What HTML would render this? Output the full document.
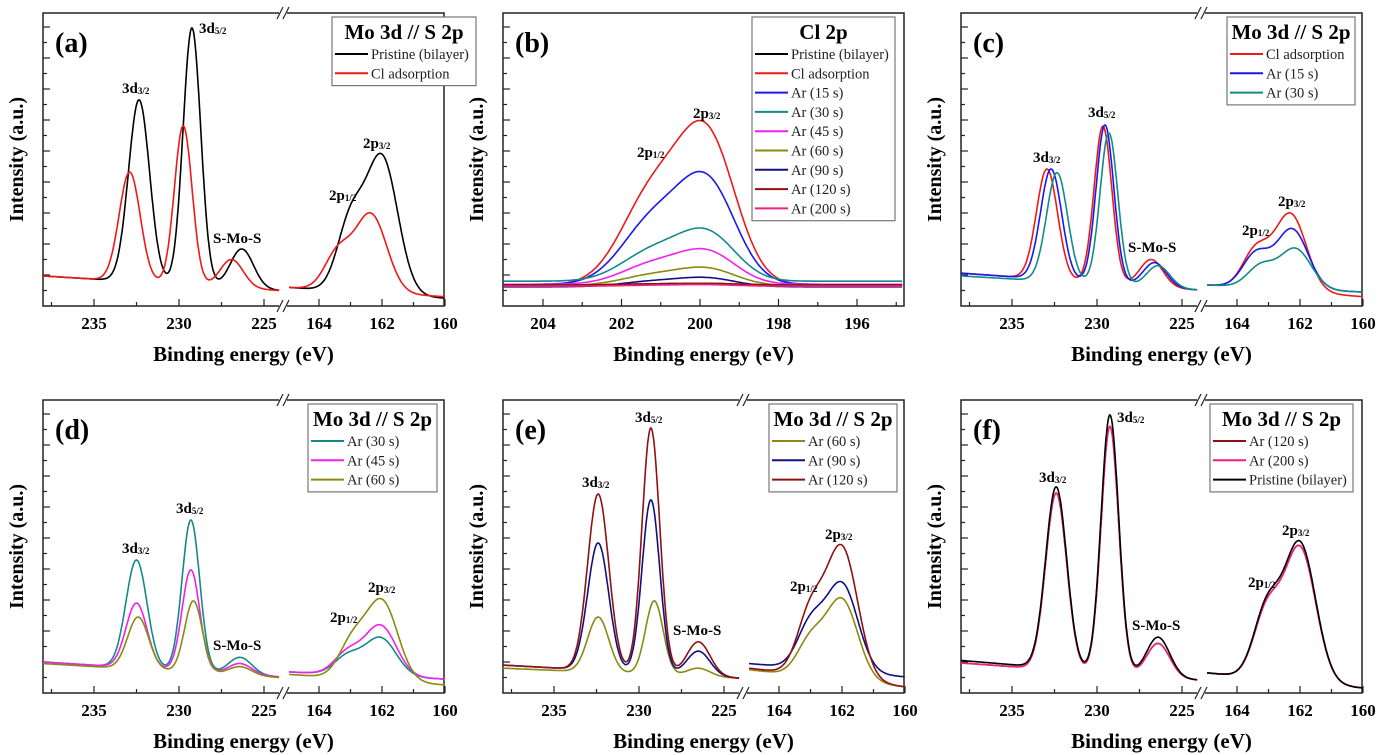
<!DOCTYPE html>
<html><head><meta charset="utf-8"><style>
html,body{margin:0;padding:0;background:#fff;}
svg{display:block;font-family:"Liberation Serif",serif;}
</style></head><body>
<svg id="fig" width="1380" height="755" viewBox="0 0 1380 755"></svg>
<script>
// ---------- DATA ----------
// Panel (a)
const aNames=["Pristine (bilayer)","Cl adsorption"];
const aE3d32=[232.35,232.9], aI3d32=[6.65,4.32];
const aE3d52=[229.24,229.75], aI3d52=[8.97,5.81];
const aESMS=[226.3,226.9], aISMS=[1.84,1.5];
const aE2p12=[163.0,163.4], aI2p12=[3.26,1.97];
const aE2p32=[162.0,162.35], aI2p32=[4.9,3.0];
const aMoBaseL=[0.97,0.97], aMoBaseR=[0.5,0.5], aSBaseL=[0.6,0.6], aSBaseR=[0.25,0.3];
// Panel (b) Cl 2p
const bNames=["Pristine (bilayer)","Cl adsorption","Ar (15 s)","Ar (30 s)","Ar (45 s)","Ar (60 s)","Ar (90 s)","Ar (120 s)","Ar (200 s)"];
const bPeakI=[0.05,5.16,3.54,1.67,1.12,0.58,0.3,0.05,0.05];
const bBase=[0.68,0.68,0.7,0.8,0.7,0.66,0.62,0.68,0.64];
const bE2p12=201.2, bE2p32=199.8;
// Panel (c)
const cNames=["Cl adsorption","Ar (15 s)","Ar (30 s)"];
const cE3d32=[232.94,232.7,232.35], cI3d32=[4.42,4.42,4.3];
const cE3d52=[229.65,229.53,229.3], cI3d52=[5.8,5.84,5.58];
const cESMS=[226.8,226.6,226.4], cISMS=[1.5,1.4,1.3];
const cE2p12=[163.4,163.4,163.25], cI2p12=[2.0,1.8,1.39];
const cE2p32=[162.3,162.25,162.15], cI2p32=[3.0,2.5,1.87];
const cMoBaseL=[1.06,1.06,0.97], cMoBaseR=[0.52,0.52,0.52], cSBaseL=[0.68,0.68,0.68], cSBaseR=[0.3,0.45,0.45];
// Panel (d)
const dNames=["Ar (30 s)","Ar (45 s)","Ar (60 s)"];
const dE3d32=[232.5,232.5,232.4], dI3d32=[4.29,2.9,2.45];
const dE3d52=[229.3,229.3,229.15], dI3d52=[5.58,3.97,2.97];
const dESMS=[226.4,226.4,226.4], dISMS=[1.15,0.95,0.85];
const dE2p12=[163.1,163.1,162.95], dI2p12=[1.3,1.45,2.0];
const dE2p32=[162.05,162.05,162.0], dI2p32=[1.8,2.2,3.03];
const dMoBaseL=[1.0,1.0,0.95], dMoBaseR=[0.52,0.52,0.5], dSBaseL=[0.68,0.68,0.6], dSBaseR=[0.45,0.45,0.26];
// Panel (e)
const eNames=["Ar (60 s)","Ar (90 s)","Ar (120 s)"];
const eE3d32=[232.4,232.4,232.4], eI3d32=[2.45,4.84,6.42];
const eE3d52=[229.1,229.3,229.3], eI3d52=[2.97,6.23,8.55];
const eESMS=[226.5,226.5,226.5], eISMS=[0.8,1.35,1.65];
const eE2p12=[163.0,163.0,163.0], eI2p12=[2.0,2.55,3.1];
const eE2p32=[162.0,162.0,162.0], eI2p32=[3.06,3.58,4.77];
const eMoBaseL=[0.8,0.9,0.9], eMoBaseR=[0.48,0.48,0.48], eSBaseL=[0.75,0.95,0.8], eSBaseR=[0.2,0.52,0.2];
// Panel (f)
const fNames=["Ar (120 s)","Ar (200 s)","Pristine (bilayer)"];
const fE3d32=[232.4,232.4,232.4], fI3d32=[6.45,6.45,6.65];
const fE3d52=[229.24,229.24,229.24], fI3d52=[8.6,8.6,8.97];
const fESMS=[226.4,226.4,226.4], fISMS=[1.6,1.6,1.8];
const fE2p12=[163.05,163.05,163.05], fI2p12=[3.05,3.05,3.16];
const fE2p32=[162.0,162.0,162.0], fI2p32=[4.75,4.75,4.9];
const fMoBaseL=[0.97,0.97,1.05], fMoBaseR=[0.42,0.42,0.42], fSBaseL=[0.65,0.65,0.65], fSBaseR=[0.16,0.16,0.16];
// tick labels
const moTicks=[235,230,225], sTicks=[164,162,160], clTicks=[204,202,200,198,196];

// ---------- STYLE ----------
const C={black:"#000",red:"#f01818",blue:"#1818f0",teal:"#138a8a",mag:"#f020f0",olive:"#8a8a10",navy:"#101080",dred:"#901010",pink:"#f0207f"};
const svg=document.getElementById('fig');
const NS="http://www.w3.org/2000/svg";
function mk(tag,attrs,parent){const e=document.createElementNS(NS,tag);for(const k in attrs)e.setAttribute(k,attrs[k]);(parent||svg).appendChild(e);return e;}
const W=401,H=293,UY=31;
function yOf(oy,u){return oy+H-u*UY;}
function xMo(ox,e){return ox+51+(235-e)*17;}
function xS(ox,e){return ox+276+(164-e)*31.5;}
function xCl(ox,e){return ox+40+(204-e)*39.25;}
function g(e,c,s){const d=e-c;return Math.exp(-d*d/(2*s*s));}

function frame(ox,oy,letter,broken){
  const r=mk('rect',{x:ox,y:oy,width:W,height:H,fill:'none',stroke:'#222','stroke-width':1.5});
  
  for(let u=0.5;u<9.4;u+=0.5){const y=yOf(oy,u);const L=Number.isInteger(u)?7:4;
    const t=mk('line',{x1:ox,x2:ox+L,y1:y,y2:y,stroke:'#222','stroke-width':1.2});
    }
  const tx=mk('text',{x:ox+12,y:oy+39,'font-size':28,'font-weight':'bold'});tx.textContent=letter;
  
  const yl=mk('text',{x:0,y:0,'font-size':20,'font-weight':'bold','text-anchor':'middle',transform:`translate(${ox-20},${oy+H/2}) rotate(-90)`});
  yl.textContent='Intensity (a.u.)';
  const xl=mk('text',{x:ox+W/2,y:oy+H+55,'font-size':21,'font-weight':'bold','text-anchor':'middle'});
  xl.textContent='Binding energy (eV)';
  if(broken){
    moTicks.forEach(v=>tick(xMo(ox,v),oy,v,7));[237.5,232.5,227.5].forEach(v=>tick(xMo(ox,v),oy,null,4));
    sTicks.forEach(v=>tick(xS(ox,v),oy,v,7));[163,161].forEach(v=>tick(xS(ox,v),oy,null,4));
    const bx=ox+240;
    [oy,oy+H].forEach(y=>{
      const w=mk('rect',{x:bx-4,y:y-3,width:8,height:6,fill:'#fff'});
      [-3,3].forEach(d=>{const l=mk('line',{x1:bx+d-3,y1:y+6,x2:bx+d+3,y2:y-6,stroke:'#222','stroke-width':1.2});
        });
    });
  } else {
    clTicks.forEach(v=>tick(xCl(ox,v),oy,v,7));[203,201,199,197,195].forEach(v=>tick(xCl(ox,v),oy,null,4));
  }
}
function tick(x,oy,label,L){
  const t=mk('line',{x1:x,x2:x,y1:oy+H,y2:oy+H-L,stroke:'#222','stroke-width':1.2});
  
  if(label!==null){const tl=mk('text',{x:x,y:oy+H+23,'font-size':17,'font-weight':'bold','text-anchor':'middle'});tl.textContent=label;
    }
}
function peakLabel(x,y,main,sub){
  const t=mk('text',{x:x,y:y+5,'font-size':15,'font-weight':'bold'});t.textContent=main;
  
  if(sub){const s=mk('tspan',{'font-size':9,dy:1},t);s.textContent=sub;}
}
function legend(x,y,w,title,names,colors){
  const h=30+names.length*19.3;
  const r=mk('rect',{x:x,y:y,width:w,height:h,fill:'#fff',stroke:'#777','stroke-width':1.2});
  
  const t=mk('text',{x:x+w/2,y:y+22,'font-size':21,'font-weight':'bold','text-anchor':'middle'});t.textContent=title;
  
  names.forEach((n,i)=>{const yy=y+37+i*19.3;
    const l=mk('line',{x1:x+3,x2:x+36,y1:yy,y2:yy,stroke:colors[i],'stroke-width':2});
    
    const tt=mk('text',{x:x+39,y:yy+5,'font-size':14.5,fill:'#222'});tt.textContent=n;
    });
}
function moPanel(ox,oy,P,colors){
  const n=P.names.length;
  for(let i=0;i<n;i++){
    const bL=P.moL[i],bR=P.moR[i];
    const base=e=>bL+(bR-bL)*(238-e)/(238-224.1);
    const pk=[[P.e32[i],P.i32[i],0.62],[P.e52[i],P.i52[i],0.52],[P.esm[i],P.ism[i],0.68]];
    const amp=pk.map(p=>p[1]-base(p[0]));
    let d='';
    for(let e=238;e>=224.1;e-=0.03){let v=base(e);pk.forEach((p,k)=>v+=amp[k]*g(e,p[0],p[2]));
      d+=(d?'L':'M')+xMo(ox,e).toFixed(1)+','+yOf(oy,v).toFixed(1);}
    const p1=mk('path',{d:d,fill:'none',stroke:colors[i],'stroke-width':1.6});
    
    const sL=P.sL[i],sR=P.sR[i];
    const sb=e=>sL+(sR-sL)*(164.95-e)/(164.95-160);
    const s1=[P.e12[i],0.42],s2=[P.e32s[i],0.5];
    const t1=P.i12[i]-sb(s1[0]),t2=P.i32s[i]-sb(s2[0]);
    const a2=(t2-t1*g(s2[0],s1[0],s1[1]))/(1-g(s2[0],s1[0],s1[1])*g(s1[0],s2[0],s2[1]));
    const a1=Math.max(0,t1-a2*g(s1[0],s2[0],s2[1]));
    d='';
    for(let e=164.95;e>=160;e-=0.02){const v=sb(e)+a1*g(e,s1[0],s1[1])+a2*g(e,s2[0],s2[1]);
      d+=(d?'L':'M')+xS(ox,e).toFixed(1)+','+yOf(oy,v).toFixed(1);}
    const p2=mk('path',{d:d,fill:'none',stroke:colors[i],'stroke-width':1.6});
    
  }
}

// ---------- PANEL (a) ----------
frame(43,13,'(a)',true);
moPanel(43,13,{names:aNames,e32:aE3d32,i32:aI3d32,e52:aE3d52,i52:aI3d52,esm:aESMS,ism:aISMS,e12:aE2p12,i12:aI2p12,e32s:aE2p32,i32s:aI2p32,moL:aMoBaseL,moR:aMoBaseR,sL:aSBaseL,sR:aSBaseR},[C.black,C.red]);
legend(332,17,144,'Mo 3d // S 2p',aNames,[C.black,C.red]);
peakLabel(122,88,'3d','3/2');peakLabel(199,28,'3d','5/2');peakLabel(213,238,'S-Mo-S');peakLabel(329,195,'2p','1/2');peakLabel(363,143,'2p','3/2');

// ---------- PANEL (b) ----------
frame(503,13,'(b)',false);
{const colors=[C.black,C.red,C.blue,C.teal,C.mag,C.olive,C.navy,C.dred,C.pink];
 const r12=0.64, r32=1.0;
 const norm=r32+r12*g(bE2p32,bE2p12,0.8);
 for(let i=0;i<bNames.length;i++){let d='';
   for(let e=205;e>=194.8;e-=0.05){const v=bBase[i]+bPeakI[i]/norm*(r32*g(e,bE2p32,0.72)+r12*g(e,bE2p12,0.8));
     d+=(d?'L':'M')+xCl(503,e).toFixed(1)+','+yOf(13,v).toFixed(1);}
   const p=mk('path',{d:d,fill:'none',stroke:colors[i],'stroke-width':1.6});
   }
 legend(752,17,143,'Cl 2p',bNames,colors);}
peakLabel(693,113,'2p','3/2');peakLabel(637,152,'2p','1/2');

// ---------- PANEL (c) ----------
frame(961,13,'(c)',true);
moPanel(961,13,{names:cNames,e32:cE3d32,i32:cI3d32,e52:cE3d52,i52:cI3d52,esm:cESMS,ism:cISMS,e12:cE2p12,i12:cI2p12,e32s:cE2p32,i32s:cI2p32,moL:cMoBaseL,moR:cMoBaseR,sL:cSBaseL,sR:cSBaseR},[C.red,C.blue,C.teal]);
legend(1227,17,128,'Mo 3d // S 2p',cNames,[C.red,C.blue,C.teal]);
peakLabel(1033,157,'3d','3/2');peakLabel(1088,112,'3d','5/2');peakLabel(1128,247,'S-Mo-S');peakLabel(1242,230,'2p','1/2');peakLabel(1278,201,'2p','3/2');

// ---------- PANEL (d) ----------
frame(43,400,'(d)',true);
moPanel(43,400,{names:dNames,e32:dE3d32,i32:dI3d32,e52:dE3d52,i52:dI3d52,esm:dESMS,ism:dISMS,e12:dE2p12,i12:dI2p12,e32s:dE2p32,i32s:dI2p32,moL:dMoBaseL,moR:dMoBaseR,sL:dSBaseL,sR:dSBaseR},[C.teal,C.mag,C.olive]);
legend(308,404,129,'Mo 3d // S 2p',dNames,[C.teal,C.mag,C.olive]);
peakLabel(122,548,'3d','3/2');peakLabel(176,508,'3d','5/2');peakLabel(213,645,'S-Mo-S');peakLabel(330,617,'2p','1/2');peakLabel(368,587,'2p','3/2');

// ---------- PANEL (e) ----------
frame(503,400,'(e)',true);
moPanel(503,400,{names:eNames,e32:eE3d32,i32:eI3d32,e52:eE3d52,i52:eI3d52,esm:eESMS,ism:eISMS,e12:eE2p12,i12:eI2p12,e32s:eE2p32,i32s:eI2p32,moL:eMoBaseL,moR:eMoBaseR,sL:eSBaseL,sR:eSBaseR},[C.olive,C.navy,C.dred]);
legend(769,404,128,'Mo 3d // S 2p',eNames,[C.olive,C.navy,C.dred]);
peakLabel(582,482,'3d','3/2');peakLabel(635,417,'3d','5/2');peakLabel(673,630,'S-Mo-S');peakLabel(790,586,'2p','1/2');peakLabel(825,534,'2p','3/2');

// ---------- PANEL (f) ----------
frame(961,400,'(f)',true);
moPanel(961,400,{names:fNames,e32:fE3d32,i32:fI3d32,e52:fE3d52,i52:fI3d52,esm:fESMS,ism:fISMS,e12:fE2p12,i12:fI2p12,e32s:fE2p32,i32s:fI2p32,moL:fMoBaseL,moR:fMoBaseR,sL:fSBaseL,sR:fSBaseR},[C.dred,C.pink,C.black]);
legend(1210,404,143,'Mo 3d // S 2p',fNames,[C.dred,C.pink,C.black]);
peakLabel(1039,477,'3d','3/2');peakLabel(1117,417,'3d','5/2');peakLabel(1132,625,'S-Mo-S');peakLabel(1248,582,'2p','1/2');peakLabel(1282,530,'2p','3/2');
</script>
</body></html>
